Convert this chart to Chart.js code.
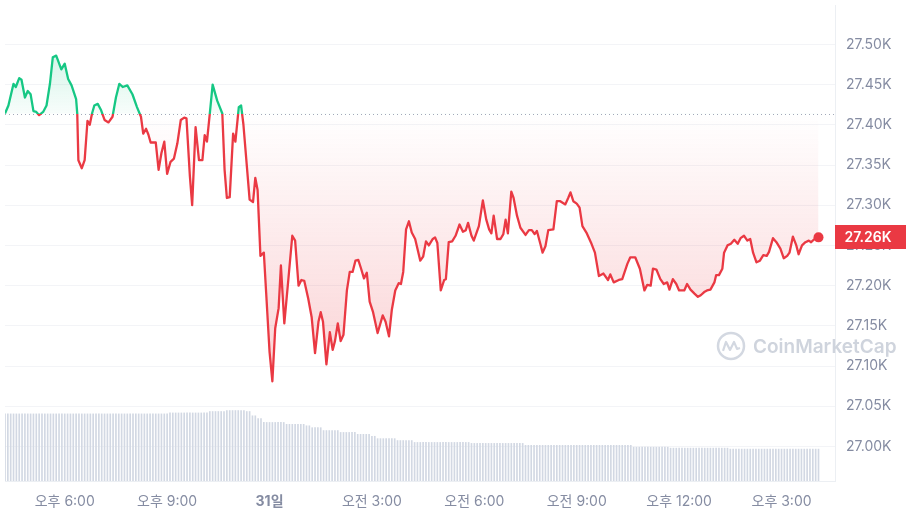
<!DOCTYPE html>
<html lang="ko">
<head>
<meta charset="utf-8">
<title>BTC 1D</title>
<script src="https://cdn.jsdelivr.net/npm/chart.js@4.4.0/dist/chart.umd.min.js"></script>
<style>
  html, body { margin: 0; padding: 0; background: #fff; }
  #wrap { width: 907px; height: 514px; position: relative; }
</style>
</head>
<body>
<div id="wrap"><canvas id="chart"></canvas></div>
<script>
// time = minutes from 00:00 of the 30th
const times = [
  975,981,990,994,1000,1004,1010,1015,1020,1025,
  1030,1035,1042,1048,1054,1059,1065,1074,1080,1086,
  1092,1100,1102,1104,1110,1115,1120,1124,1128,1132,
  1138,1144,1150,1157,1164,1170,1176,1182,1190,1199,
  1207,1214,1218,1223,1227,1231,1240,1245,1250,1255,
  1260,1266,1272,1278,1284,1290,1294,1300,1304,1310,
  1316,1322,1326,1330,1335,1340,1348,1357,1361,1365,
  1370,1376,1380,1386,1390,1394,1405,1411,1415,1419,
  1424,1430,1434,1440,1445,1450,1456,1460,1466,1473,
  1480,1485,1491,1496,1501,1508,1514,1520,1526,1530,
  1534,1540,1546,1551,1555,1560,1565,1570,1576,1581,
  1586,1591,1596,1601,1606,1611,1616,1622,1630,1639,
  1644,1650,1655,1661,1667,1671,1675,1680,1685,1690,
  1696,1705,1710,1715,1720,1727,1731,1735,1741,1747,
  1750,1755,1761,1767,1774,1780,1785,1789,1795,1799,
  1808,1815,1821,1826,1830,1834,1840,1846,1851,1855,
  1859,1865,1869,1875,1881,1890,1896,1901,1906,1910,
  1916,1920,1925,1930,1939,1945,1951,1960,1965,1969,
  1974,1980,1985,1990,1997,2006,2012,2019,2027,2035,
  2039,2045,2054,2060,2069,2074,2083,2091,2099,2104,
  2110,2114,2120,2127,2133,2139,2143,2149,2155,2160,
  2169,2174,2180,2187,2193,2198,2204,2209,2215,2222,
  2225,2230,2236,2239,2245,2251,2257,2263,2268,2274,
  2280,2285,2290,2296,2302,2308,2314,2318,2325,2331,
  2338,2344,2350,2354,2360,2366,2370,2376,2382,2388,
  2392,2398,2405
];
const prices = [
  27414,27424,27451,27447,27458,27456,27434,27442,27438,27417,
  27416,27412,27416,27424,27451,27484,27486,27469,27476,27457,
  27449,27432,27414,27356,27346,27356,27405,27400,27414,27424,
  27426,27418,27406,27403,27410,27434,27451,27447,27449,27438,
  27422,27410,27389,27395,27388,27378,27378,27344,27365,27379,
  27339,27354,27358,27377,27406,27409,27408,27336,27300,27397,
  27356,27356,27387,27379,27414,27450,27430,27414,27344,27309,
  27310,27389,27379,27422,27424,27401,27307,27304,27334,27319,
  27237,27241,27192,27118,27081,27147,27172,27225,27153,27207,
  27262,27256,27200,27207,27206,27184,27161,27116,27155,27167,
  27155,27102,27142,27120,27131,27153,27131,27139,27194,27217,
  27217,27231,27232,27221,27209,27216,27180,27167,27141,27163,
  27155,27137,27170,27194,27203,27202,27217,27270,27280,27266,
  27258,27231,27236,27255,27250,27258,27260,27253,27194,27207,
  27208,27254,27255,27262,27276,27267,27269,27278,27262,27256,
  27274,27306,27282,27270,27265,27287,27258,27258,27264,27282,
  27265,27317,27309,27287,27272,27263,27269,27269,27264,27268,
  27252,27241,27249,27269,27270,27305,27305,27301,27309,27316,
  27305,27302,27297,27274,27266,27252,27241,27212,27215,27207,
  27214,27204,27207,27208,27227,27235,27235,27221,27194,27201,
  27200,27221,27220,27208,27202,27204,27195,27208,27202,27194,
  27194,27202,27195,27190,27186,27188,27192,27194,27195,27204,
  27213,27213,27221,27241,27250,27252,27257,27252,27259,27262,
  27256,27258,27241,27229,27231,27238,27237,27242,27259,27254,
  27246,27234,27237,27241,27261,27250,27239,27250,27254,27256,
  27254,27258,27260
];

// 24h volume (billion USD), one bar every 5 minutes from 16:15
const volStart = 975;
const volStep = 5;
const volumes = [
  14.1,14.1,14.1,14.1,14.1,14.1,14.1,14.1,14.1,14.1,14.1,14.1,
  14.1,14.1,14.1,14.1,14.1,14.1,14.1,14.1,14.1,14.1,14.1,14.1,
  14.1,14.1,14.1,14.1,14.1,14.1,14.1,14.1,14.1,14.1,14.1,14.1,
  14.1,14.1,14.1,14.1,14.1,14.1,14.1,14.1,14.1,14.1,14.1,14.1,
  14.1,14.1,14.1,14.1,14.1,14.1,14.1,14.1,14.1,14.1,14.3,14.3,
  14.3,14.3,14.3,14.3,14.3,14.3,14.3,14.3,14.3,14.3,14.3,14.3,
  14.6,14.6,14.6,14.6,14.6,14.6,14.8,14.8,14.8,14.8,14.8,14.8,
  14.8,14.6,14.6,13.7,13.7,13.1,13.1,12.3,12.3,12.3,12.3,12.3,
  12.3,12.3,12.3,11.9,11.9,11.9,11.9,11.9,11.9,11.9,11.6,11.6,
  11.2,11.2,11.2,11.2,10.6,10.6,10.6,10.6,10.6,10.6,10.2,10.2,
  10.2,10.2,10.2,10.2,9.8,9.8,9.8,9.8,9.8,9.4,9.4,8.9,
  8.9,8.9,8.9,8.9,8.9,8.9,8.5,8.5,8.5,8.5,8.5,8.5,
  8.1,8.1,8.1,8.1,8.1,8.1,8.1,8.1,8.1,8.1,8.1,8.1,
  8.1,8.1,8.1,8.1,8.1,8.1,8.1,8.1,7.9,7.9,7.9,7.9,
  7.9,7.9,7.9,7.9,7.9,7.9,7.9,7.9,7.9,7.9,7.9,7.9,
  7.9,7.9,7.9,7.5,7.5,7.5,7.5,7.5,7.5,7.5,7.5,7.5,
  7.5,7.5,7.5,7.5,7.5,7.5,7.5,7.5,7.5,7.5,7.5,7.5,
  7.5,7.5,7.5,7.5,7.5,7.5,7.5,7.5,7.5,7.5,7.5,7.5,
  7.5,7.5,7.5,7.5,7.5,7.1,7.1,7.1,7.1,7.1,7.1,7.1,
  7.1,7.1,7.1,7.1,7.1,7.1,6.9,6.9,6.9,6.9,6.9,6.9,
  6.9,6.9,6.9,6.9,6.9,6.9,6.9,6.9,6.9,6.9,6.9,6.9,
  6.9,6.9,6.9,6.7,6.7,6.7,6.7,6.7,6.7,6.7,6.7,6.7,
  6.7,6.7,6.7,6.7,6.7,6.7,6.7,6.7,6.7,6.7,6.7,6.7,
  6.7,6.7,6.7,6.7,6.7,6.7,6.7,6.7,6.7,6.7,6.7
];

const yTicks = [27000, 27050, 27100, 27150, 27200, 27250, 27300, 27350, 27400, 27450, 27500];
const xTickValues = [1080, 1260, 1440, 1620, 1800, 1980, 2160, 2340];
const xTickLabels = ['오후 6:00', '오후 9:00', '31일', '오전 3:00', '오전 6:00', '오전 9:00', '오후 12:00', '오후 3:00'];

const GREEN = '#16c784';
const RED = '#ea3943';
const FONT = 'Inter, "Noto Sans CJK KR", sans-serif';
const basePrice = prices[0];
const lastPrice = prices[prices.length - 1];

function baseFraction(chart) {
  const a = chart.chartArea;
  const y0 = chart.scales.y.getPixelForValue(basePrice);
  return Math.min(Math.max((y0 - a.top) / (a.bottom - a.top), 0), 1);
}

const overlay = {
  id: 'overlay',
  beforeDatasetsDraw(chart) {
    const { ctx, chartArea: a, scales: { y } } = chart;
    ctx.save();
    // watermark
    const cx = a.right - 104, cy = y.getPixelForValue(27125);
    ctx.strokeStyle = '#d3d8e1';
    ctx.lineWidth = 2.5;
    ctx.beginPath();
    ctx.arc(cx, cy, 13, 0, Math.PI * 2);
    ctx.stroke();
    ctx.lineWidth = 2.2;
    ctx.lineJoin = 'round';
    ctx.beginPath();
    ctx.moveTo(cx - 8, cy + 5);
    ctx.lineTo(cx - 5, cy - 4);
    ctx.lineTo(cx - 1, cy + 4);
    ctx.lineTo(cx + 3, cy - 4);
    ctx.lineTo(cx + 6, cy + 3);
    ctx.lineTo(cx + 9, cy + 2);
    ctx.stroke();
    ctx.fillStyle = '#cfd4dd';
    ctx.font = '600 19px ' + FONT;
    ctx.textBaseline = 'middle';
    ctx.textAlign = 'left';
    ctx.fillText('CoinMarketCap', cx + 22, cy + 1);
    // dotted baseline (open price)
    const yb = Math.round(y.getPixelForValue(basePrice)) + 0.5;
    ctx.strokeStyle = '#a1a8b8';
    ctx.lineWidth = 1;
    ctx.setLineDash([1, 3]);
    ctx.beginPath();
    ctx.moveTo(a.left, yb);
    ctx.lineTo(a.right, yb);
    ctx.stroke();
    ctx.restore();
  },
  afterDraw(chart) {
    const { ctx, chartArea: a, scales: { y } } = chart;
    const yp = y.getPixelForValue(lastPrice);
    ctx.save();
    ctx.fillStyle = RED;
    ctx.fillRect(a.right, Math.round(yp - 12), chart.width - a.right - 1, 24);
    ctx.fillStyle = '#fff';
    ctx.font = '600 14px ' + FONT;
    ctx.textAlign = 'center';
    ctx.textBaseline = 'middle';
    ctx.fillText((lastPrice / 1000).toFixed(2) + 'K', (a.right + chart.width) / 2 - 3, Math.round(yp) + 1);
    ctx.restore();
  }
};

const lastIndex = prices.length - 1;

new Chart(document.getElementById('chart'), {
  data: {
    datasets: [
      {
        type: 'line',
        order: 0,
        data: times.map((t, i) => ({ x: t, y: prices[i] })),
        borderWidth: 2.3,
        borderJoinStyle: 'round',
        tension: 0,
        pointRadius: (c) => c.dataIndex === lastIndex ? 5 : 0,
        pointBackgroundColor: RED,
        pointBorderColor: RED,
        pointBorderWidth: 0,
        fill: { target: { value: basePrice } },
        borderColor: (c) => {
          const chart = c.chart;
          if (!chart.chartArea) return RED;
          const a = chart.chartArea;
          const f = baseFraction(chart);
          const g = chart.ctx.createLinearGradient(0, a.top, 0, a.bottom);
          g.addColorStop(0, GREEN);
          g.addColorStop(f, GREEN);
          g.addColorStop(f, RED);
          g.addColorStop(1, RED);
          return g;
        },
        backgroundColor: (c) => {
          const chart = c.chart;
          if (!chart.chartArea) return 'rgba(234,57,67,0.1)';
          const a = chart.chartArea;
          const f = baseFraction(chart);
          const g = chart.ctx.createLinearGradient(0, a.top, 0, a.bottom);
          g.addColorStop(0, 'rgba(22,199,132,0.3)');
          g.addColorStop(f, 'rgba(22,199,132,0.03)');
          g.addColorStop(f, 'rgba(234,57,67,0.0)');
          g.addColorStop(1, 'rgba(234,57,67,0.31)');
          return g;
        }
      },
      {
        type: 'bar',
        order: 1,
        yAxisID: 'yv',
        data: volumes.map((v, i) => ({ x: volStart + i * volStep, y: v })),
        backgroundColor: '#d2d8e3',
        barThickness: 1
      }
    ]
  },
  options: {
    responsive: true,
    maintainAspectRatio: false,
    animation: false,
    layout: { padding: 0 },
    plugins: { legend: { display: false }, tooltip: { enabled: false } },
    scales: {
      x: {
        type: 'linear',
        offset: false,
        min: 975,
        max: 2434,
        grid: { display: false, offset: false },
        border: { display: true, color: '#eceff3' },
        afterBuildTicks: (s) => { s.ticks = xTickValues.map(v => ({ value: v })); },
        afterFit: (s) => { s.height = 33; s.paddingLeft = 0; s.paddingRight = 0; },
        ticks: {
          autoSkip: false,
          maxRotation: 0,
          padding: 4,
          color: '#858ca2',
          font: (c) => ({ family: FONT, size: 14, weight: c.tick && c.tick.value === 1440 ? 'bold' : 'normal' }),
          callback: (v) => xTickLabels[xTickValues.indexOf(v)]
        }
      },
      y: {
        position: 'right',
        min: 26957,
        max: 27549,
        grid: { color: '#f3f4f7', drawTicks: false },
        border: { display: true, color: '#eceff3' },
        afterBuildTicks: (s) => { s.ticks = yTicks.map(v => ({ value: v })); },
        afterFit: (s) => { s.width = 72; s.paddingTop = 0; s.paddingBottom = 0; },
        ticks: {
          padding: 11,
          color: '#858ca2',
          font: { family: FONT, size: 14 },
          callback: (v) => (v / 1000).toFixed(2) + 'K'
        }
      },
      yv: { display: false, min: 0, max: 100 }
    }
  },
  plugins: [overlay]
});
</script>
</body>
</html>
